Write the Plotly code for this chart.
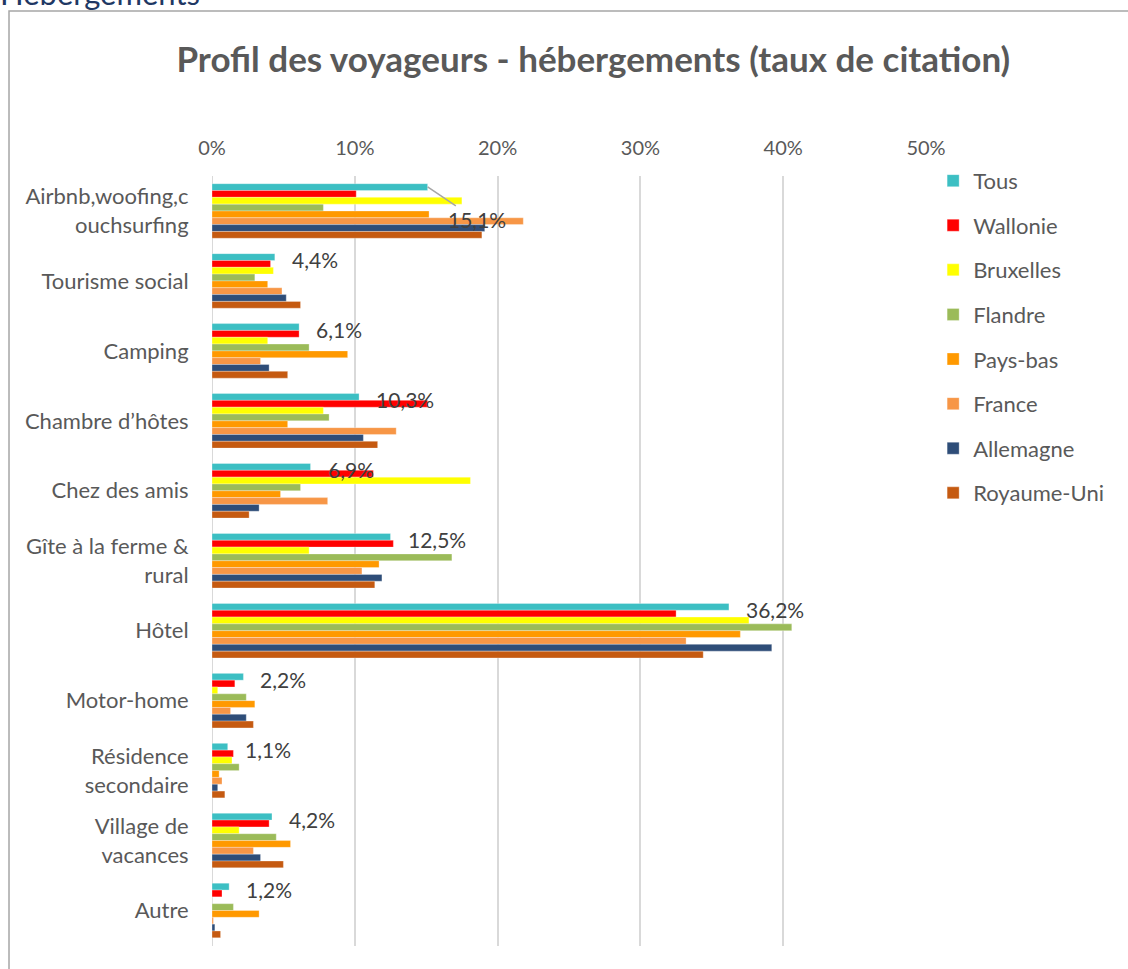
import plotly.graph_objects as go

categories = ["Airbnb,woofing,c<br>ouchsurfing", "Tourisme social", "Camping", "Chambre d’hôtes",
              "Chez des amis", "Gîte à la ferme &<br>rural", "Hôtel", "Motor-home",
              "Résidence<br>secondaire", "Village de<br>vacances", "Autre"]

tous = [15.1, 4.4, 6.1, 10.3, 6.9, 12.5, 36.2, 2.2, 1.1, 4.2, 1.2]
wallonie = [10.1, 4.1, 6.1, 15.1, 11.3, 12.7, 32.5, 1.6, 1.5, 4.0, 0.7]
bruxelles = [17.5, 4.3, 3.9, 7.8, 18.1, 6.8, 37.6, 0.4, 1.4, 1.9, 0.0]
flandre = [7.8, 3.0, 6.8, 8.2, 6.2, 16.8, 40.6, 2.4, 1.9, 4.5, 1.5]
pays_bas = [15.2, 3.9, 9.5, 5.3, 4.8, 11.7, 37.0, 3.0, 0.5, 5.5, 3.3]
france = [21.8, 4.9, 3.4, 12.9, 8.1, 10.5, 33.2, 1.3, 0.7, 2.9, 0.1]
allemagne = [19.1, 5.2, 4.0, 10.6, 3.3, 11.9, 39.2, 2.4, 0.4, 3.4, 0.2]
royaume_uni = [18.9, 6.2, 5.3, 11.6, 2.6, 11.4, 34.4, 2.9, 0.9, 5.0, 0.6]

series = [
    ("Tous", tous, "#3CBFC3"),
    ("Wallonie", wallonie, "#FF0000"),
    ("Bruxelles", bruxelles, "#FFFF00"),
    ("Flandre", flandre, "#9BBB59"),
    ("Pays-bas", pays_bas, "#FF9900"),
    ("France", france, "#F79646"),
    ("Allemagne", allemagne, "#2E4D78"),
    ("Royaume-Uni", royaume_uni, "#C55A11"),
]

tick_vals = [0, 10, 20, 30, 40, 50]
tick_text = ["0%", "10%", "20%", "30%", "40%", "50%"]

FONT = "Lato"
TXT = "#595959"

fig = go.Figure()
for name, vals, col in series:
    fig.add_trace(go.Bar(
        y=categories, x=vals, name=name, orientation="h",
        marker=dict(color=col, line=dict(color="rgba(255,255,255,0.6)", width=0.5)),
        legendgroup=name,
    ))

annotations = []
for i, (cat, v) in enumerate(zip(categories, tous)):
    label = f"{v:.1f}".replace(".", ",") + "%"
    if i == 0:
        annotations.append(dict(
            x=v, y=cat, xref="x", yref="y", text=label, showarrow=True,
            arrowhead=0, arrowwidth=1.5, arrowcolor="#A6A6A6", ax=49, ay=33,
            yshift=24, font=dict(family=FONT, size=21, color="#404040"),
        ))
    else:
        annotations.append(dict(
            x=v, y=cat, xref="x", yref="y", text=label, showarrow=False,
            xanchor="left", yanchor="middle", xshift=15, yshift=21,
            font=dict(family=FONT, size=21, color="#404040"),
        ))

annotations.append(dict(
    x=-0.2997, y=1.2105, xref="paper", yref="paper", text="Hébergements",
    showarrow=False, xanchor="left", yanchor="bottom",
    font=dict(family=FONT, size=31, color="#1F3864"),
))

fig.update_layout(
    width=1128, height=969,
    margin=dict(l=212, r=202, t=176, b=23),
    paper_bgcolor="white", plot_bgcolor="white",
    barmode="group", bargap=0.22, bargroupgap=0.0,
    title=dict(text="<b>Profil des voyageurs - hébergements (taux de citation)</b>",
               x=0.526, xanchor="center", y=1 - 60 / 969, yanchor="middle", yref="container",
               font=dict(family=FONT, size=35, color=TXT)),
    font=dict(family=FONT, color=TXT, size=20),
    xaxis=dict(side="top", range=[0, 50], tickvals=tick_vals, ticktext=tick_text,
               showgrid=True, gridcolor="#D9D9D9", gridwidth=2, zeroline=False,
               showline=False, ticks="outside", ticklen=12, tickcolor="rgba(0,0,0,0)",
               tickfont=dict(family=FONT, size=20, color=TXT), fixedrange=True),
    yaxis=dict(autorange="reversed", showgrid=False, zeroline=False, showline=False,
               ticks="outside", ticklen=18, tickcolor="rgba(0,0,0,0)",
               tickfont=dict(family=FONT, size=22, color=TXT)),
    legend=dict(x=1.01, y=1.021, xanchor="left", yanchor="top", traceorder="grouped",
                tracegroupgap=13, font=dict(family=FONT, size=22, color=TXT),
                bgcolor="rgba(0,0,0,0)"),
    annotations=annotations,
    shapes=[
        dict(type="line", xref="x", yref="paper", x0=0, x1=0, y0=0, y1=1,
             line=dict(color="#D9D9D9", width=2), layer="below"),
        dict(type="rect", xref="paper", yref="paper", x0=-0.2843, x1=1.4,
             y0=-0.2, y1=1.2143, line=dict(color="#A6A6A6", width=1.5),
             fillcolor="rgba(0,0,0,0)", layer="below"),
    ],
    showlegend=True,
)

fig.write_html("out.html", config={"displayModeBar": False},
               post_script="document.body.style.margin='0';")
